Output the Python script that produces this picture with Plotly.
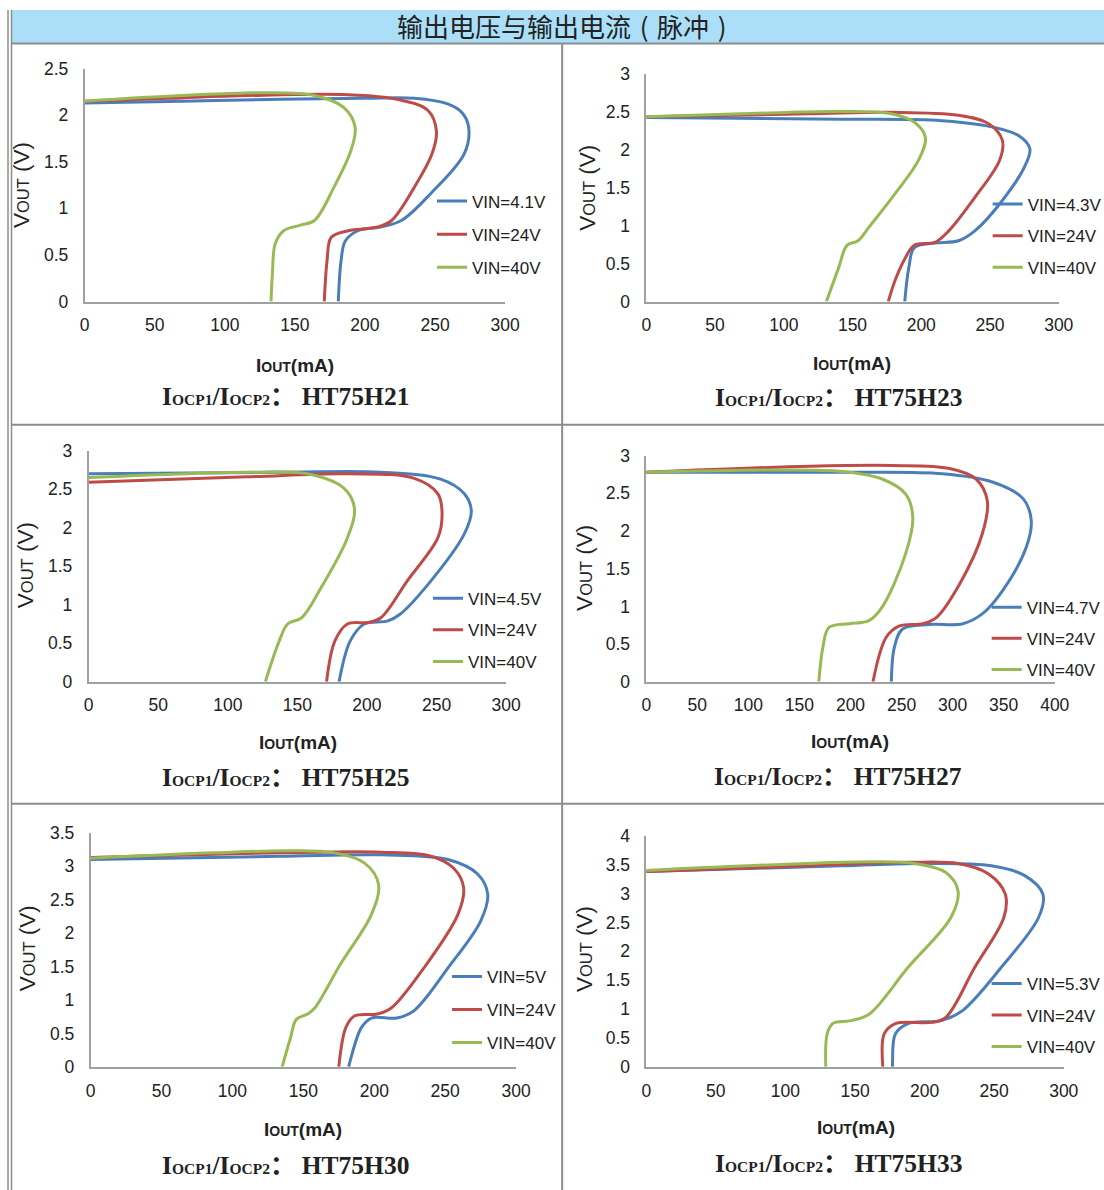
import plotly.graph_objects as go

# The photographed page shows the figure at about (4.5, 9.5) + 0.98 * figure px,
# so positions below are given in target picture pixels and converted.
SX, SY = 0.981, 0.983
AX0, AY0 = 4.5, 9.5
W, H = 1121, 1201

# ---------------- data ----------------
title_text = "输出电压与输出电流\u2004(\u2004脉冲\u2004)"
models = ["HT75H21", "HT75H23", "HT75H25", "HT75H27", "HT75H30", "HT75H33"]
vin_names = [
    ["VIN=4.1V", "VIN=24V", "VIN=40V"],
    ["VIN=4.3V", "VIN=24V", "VIN=40V"],
    ["VIN=4.5V", "VIN=24V", "VIN=40V"],
    ["VIN=4.7V", "VIN=24V", "VIN=40V"],
    ["VIN=5V", "VIN=24V", "VIN=40V"],
    ["VIN=5.3V", "VIN=24V", "VIN=40V"],
]
x_max = [300, 300, 300, 400, 300, 300]
y_max = [2.5, 3, 3, 3, 3.5, 4]

# HT75H21
h21_low_i = [0, 70, 140, 200, 235, 259, 269, 274, 271, 247, 226, 211, 195, 186, 183, 181]
h21_low_v = [2.13, 2.15, 2.17, 2.18, 2.18, 2.12, 2.03, 1.87, 1.59, 1.16, 0.87, 0.80, 0.76, 0.65, 0.44, 0]
h21_24_i = [0, 60, 116, 188, 223, 245, 251, 248, 235, 219, 209, 188, 176, 173, 171]
h21_24_v = [2.15, 2.18, 2.21, 2.22, 2.17, 2.05, 1.83, 1.59, 1.22, 0.87, 0.80, 0.76, 0.69, 0.44, 0]
h21_40_i = [0, 69, 128, 164, 185, 193, 190, 178, 164, 154, 142, 136, 134, 133]
h21_40_v = [2.15, 2.21, 2.24, 2.21, 2.08, 1.87, 1.62, 1.23, 0.87, 0.82, 0.76, 0.62, 0.30, 0]

# HT75H23
h23_low_i = [0, 142, 215, 251, 271, 279, 275, 259, 239, 227, 210, 195, 191, 188]
h23_low_v = [2.42, 2.40, 2.38, 2.30, 2.18, 2.01, 1.77, 1.33, 0.93, 0.80, 0.77, 0.71, 0.45, 0]
h23_24_i = [0, 118, 178, 227, 249, 259, 257, 239, 220, 210, 195, 188, 181, 176]
h23_24_v = [2.43, 2.47, 2.49, 2.45, 2.34, 2.12, 1.86, 1.37, 0.93, 0.78, 0.74, 0.56, 0.28, 0]
h23_40_i = [0, 69, 142, 178, 195, 203, 198, 181, 162, 154, 146, 140, 131]
h23_40_v = [2.43, 2.47, 2.50, 2.47, 2.36, 2.16, 1.86, 1.42, 0.98, 0.80, 0.74, 0.45, 0]

# HT75H25
h25_low_i = [0, 138, 210, 253, 270, 275, 270, 246, 224, 215, 198, 188, 180]
h25_low_v = [2.70, 2.72, 2.72, 2.63, 2.44, 2.22, 1.92, 1.31, 0.88, 0.79, 0.75, 0.53, 0]
h25_24_i = [0, 114, 186, 234, 251, 254, 251, 229, 210, 201, 186, 177, 171]
h25_24_v = [2.59, 2.66, 2.70, 2.64, 2.44, 2.18, 1.87, 1.31, 0.83, 0.77, 0.75, 0.53, 0]
h25_40_i = [0, 114, 157, 183, 191, 186, 167, 153, 143, 137, 127]
h25_40_v = [2.65, 2.72, 2.70, 2.52, 2.26, 1.87, 1.22, 0.83, 0.75, 0.53, 0]

# HT75H27
h27_low_i = [0, 192, 290, 339, 369, 377, 372, 349, 329, 310, 277, 251, 243, 240]
h27_low_v = [2.78, 2.78, 2.76, 2.65, 2.43, 2.14, 1.78, 1.21, 0.90, 0.77, 0.76, 0.70, 0.46, 0]
h27_24_i = [0, 160, 241, 297, 323, 334, 329, 307, 284, 271, 248, 235, 222]
h27_24_v = [2.78, 2.86, 2.87, 2.83, 2.69, 2.40, 1.96, 1.30, 0.85, 0.77, 0.74, 0.59, 0]
h27_40_i = [0, 127, 192, 231, 254, 261, 254, 231, 218, 199, 179, 173, 169]
h27_40_v = [2.78, 2.81, 2.79, 2.69, 2.49, 2.18, 1.70, 0.99, 0.81, 0.77, 0.72, 0.46, 0]

# HT75H30
h30_low_i = [0, 134, 205, 252, 273, 280, 275, 252, 228, 216, 198, 191, 183, 182]
h30_low_v = [3.10, 3.15, 3.17, 3.10, 2.88, 2.58, 2.18, 1.48, 0.84, 0.73, 0.73, 0.59, 0.09, 0]
h30_24_i = [0, 134, 205, 240, 256, 263, 259, 235, 212, 202, 186, 180, 175]
h30_24_v = [3.13, 3.20, 3.21, 3.15, 2.97, 2.68, 2.28, 1.48, 0.88, 0.79, 0.76, 0.59, 0]
h30_40_i = [0, 87, 139, 172, 193, 203, 198, 176, 158, 153, 145, 141, 135]
h30_40_v = [3.12, 3.20, 3.23, 3.20, 3.05, 2.73, 2.28, 1.53, 0.88, 0.79, 0.71, 0.44, 0]

# HT75H33
h33_low_i = [0, 140, 200, 248, 272, 285, 282, 255, 227, 212, 188, 179, 177, 177]
h33_low_v = [3.38, 3.48, 3.52, 3.48, 3.31, 2.99, 2.59, 1.72, 0.97, 0.80, 0.75, 0.57, 0.10, 0]
h33_24_i = [0, 116, 188, 224, 246, 258, 257, 236, 215, 205, 179, 171, 170]
h33_24_v = [3.38, 3.48, 3.54, 3.52, 3.34, 2.99, 2.59, 1.72, 0.85, 0.77, 0.75, 0.57, 0]
h33_40_i = [0, 92, 164, 193, 215, 224, 219, 188, 160, 147, 134, 130, 129]
h33_40_v = [3.40, 3.50, 3.55, 3.52, 3.37, 3.05, 2.59, 1.72, 0.91, 0.80, 0.75, 0.57, 0]

series = [
    [(h21_low_i, h21_low_v), (h21_24_i, h21_24_v), (h21_40_i, h21_40_v)],
    [(h23_low_i, h23_low_v), (h23_24_i, h23_24_v), (h23_40_i, h23_40_v)],
    [(h25_low_i, h25_low_v), (h25_24_i, h25_24_v), (h25_40_i, h25_40_v)],
    [(h27_low_i, h27_low_v), (h27_24_i, h27_24_v), (h27_40_i, h27_40_v)],
    [(h30_low_i, h30_low_v), (h30_24_i, h30_24_v), (h30_40_i, h30_40_v)],
    [(h33_low_i, h33_low_v), (h33_24_i, h33_24_v), (h33_40_i, h33_40_v)],
]

# ---------------- styling / layout ----------------
colors = ["#4a7ebb", "#be4b48", "#98b954"]
NARROW = "Liberation Sans Narrow, Arial Narrow, Liberation Sans, Arial, sans-serif"
SERIF = "Liberation Serif, Times New Roman, Noto Sans CJK SC, serif"
CJK = "Noto Sans CJK SC, sans-serif"
TXT = "#222222"
GRID = "#8c8c8c"
AXIS = "#a0a0a0"
TICK_SIZE = 17.5
LEG_SIZE = 17


def fx(x):
    return min(max((x - AX0) / SX / W, 0), 1)


def fy(y):
    return min(max(1 - (y - AY0) / SY / H, 0), 1)


# positions in target picture pixels
plot_px = [
    (84, 504, 68, 301),
    (645, 1057, 73, 301),
    (88, 505, 450, 681),
    (645, 1053, 455, 681),
    (90, 515, 832, 1066),
    (645, 1062, 835, 1066),
]
legend_px = [(431, 183), (986, 186), (427, 580), (985, 589), (446, 958), (985, 965)]
legend_gap = [8, 6.5, 6.5, 6, 8, 6.5]
ytitle_px = [(21, 185), (586, 187), (25, 565), (584, 567), (27, 948), (584, 948)]
xtitle_px = [(294, 365), (851, 363), (297, 742), (849, 741), (302, 1129), (854, 1127)]
caption_px = [(285, 396), (837, 397), (285, 777), (837, 776), (285, 1165), (837, 1163)]

fig = go.Figure()
layout = dict(
    width=W, height=H, margin=dict(l=0, r=0, t=0, b=0),
    paper_bgcolor="white", plot_bgcolor="white", showlegend=True,
)
annotations = []

for k in range(6):
    n = "" if k == 0 else str(k + 1)
    lg = "legend" + n
    for j in range(3):
        xi, yv = series[k][j]
        fig.add_trace(go.Scatter(
            x=xi, y=yv, mode="lines", name=vin_names[k][j],
            line=dict(color=colors[j], width=3, shape="spline", smoothing=1.0),
            xaxis="x" + n, yaxis="y" + n, legend=lg, legendgroup=f"g{k}{j}",
            hoverinfo="skip",
        ))
    l, r, t, b = plot_px[k]
    layout["xaxis" + n] = dict(
        domain=[fx(l), fx(r)], range=[0, x_max[k]], anchor="y" + n,
        dtick=50, tick0=0, showgrid=False, zeroline=False,
        showline=True, linecolor=AXIS, linewidth=1.5, ticks="",
        ticklabelstandoff=7,
        tickfont=dict(family=NARROW, size=TICK_SIZE, color=TXT), fixedrange=True,
    )
    layout["yaxis" + n] = dict(
        domain=[fy(b), fy(t)], range=[0, y_max[k]], anchor="x" + n,
        dtick=0.5, tick0=0, showgrid=False, zeroline=False,
        showline=True, linecolor=AXIS, linewidth=1.5, ticks="",
        ticklabelstandoff=11,
        tickfont=dict(family=NARROW, size=TICK_SIZE, color=TXT), fixedrange=True,
    )
    lx, ly = legend_px[k]
    layout[lg] = dict(
        x=fx(lx), y=fy(ly), xanchor="left", yanchor="top",
        bgcolor="rgba(0,0,0,0)", borderwidth=0, itemwidth=30,
        tracegroupgap=legend_gap[k], traceorder="grouped",
        font=dict(family=NARROW, size=LEG_SIZE, color=TXT),
    )
    ax, ay = ytitle_px[k]
    annotations.append(dict(
        x=fx(ax), y=fy(ay), xref="paper", yref="paper", showarrow=False,
        text="V<span style='font-size:16.5px'>OUT</span> (V)", textangle=-90,
        font=dict(family=NARROW, size=22.5, color=TXT),
        xanchor="center", yanchor="middle",
    ))
    ax, ay = xtitle_px[k]
    annotations.append(dict(
        x=fx(ax), y=fy(ay), xref="paper", yref="paper", showarrow=False,
        text="<b>I<span style='font-size:14px'>OUT</span>(mA)</b>",
        font=dict(family=NARROW, size=19, color=TXT),
        xanchor="center", yanchor="middle",
    ))
    ax, ay = caption_px[k]
    annotations.append(dict(
        x=fx(ax), y=fy(ay), xref="paper", yref="paper", showarrow=False,
        text=("<b>I<span style='font-size:15.5px'>OCP1</span>/I"
              "<span style='font-size:15.5px'>OCP2</span>： " + models[k] + "</b>"),
        font=dict(family=SERIF, size=25.5, color=TXT),
        xanchor="center", yanchor="middle",
    ))

annotations.append(dict(
    x=fx(561), y=fy(25), xref="paper", yref="paper", showarrow=False,
    text=title_text, font=dict(family=CJK, size=26, color=TXT),
    xanchor="center", yanchor="middle",
))

shapes = [
    # header band
    dict(type="rect", xref="paper", yref="paper", x0=fx(11), x1=1, y0=fy(43), y1=fy(6),
         fillcolor="#abdff8", line=dict(width=0), layer="below"),
    # left double frame
    dict(type="line", xref="paper", yref="paper", x0=fx(7.5), x1=fx(7.5), y0=0, y1=1,
         line=dict(color=GRID, width=1.5)),
    dict(type="line", xref="paper", yref="paper", x0=fx(11), x1=fx(11), y0=0, y1=1,
         line=dict(color=GRID, width=1.5)),
    # cell borders
    dict(type="line", xref="paper", yref="paper", x0=fx(11), x1=1, y0=fy(43), y1=fy(43),
         line=dict(color=GRID, width=2)),
    dict(type="line", xref="paper", yref="paper", x0=fx(11), x1=1, y0=fy(424), y1=fy(424),
         line=dict(color=GRID, width=2)),
    dict(type="line", xref="paper", yref="paper", x0=fx(11), x1=1, y0=fy(803), y1=fy(803),
         line=dict(color=GRID, width=2)),
    dict(type="line", xref="paper", yref="paper", x0=fx(561), x1=fx(561), y0=0, y1=fy(43),
         line=dict(color=GRID, width=2)),
]

layout["annotations"] = annotations
layout["shapes"] = shapes
fig.update_layout(**layout)
fig.write_html("out.html")
